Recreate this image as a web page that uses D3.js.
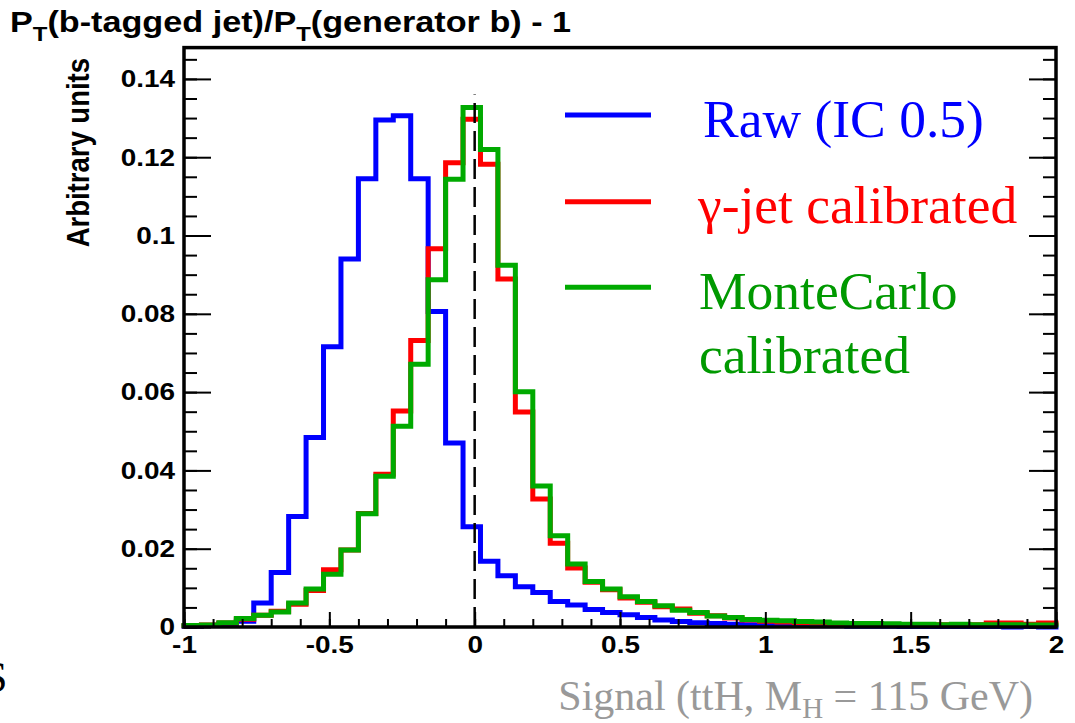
<!DOCTYPE html>
<html><head><meta charset="utf-8">
<script src="https://cdn.jsdelivr.net/npm/d3@7"></script>
<style>body{margin:0;background:#fff}svg{display:block}</style>
</head><body><svg id="c" width="1075" height="723"></svg>
<script>
// ---------------- data ----------------
const xMin = -1, xMax = 2, binCount = 50;
const binLowEdges = d3.range(binCount).map(i => xMin + i * (xMax - xMin) / binCount);

const rawValues = [
  0.0002,0.0004,0.0008,0.0015,0.0061,0.0139,0.0282,0.0484,0.0716,0.0940,
  0.1145,0.1295,0.1306,0.1145,0.0806,0.0470,0.0256,0.0168,0.0131,0.0103,
  0.0088,0.0065,0.0056,0.0045,0.0037,0.0031,0.0024,0.0018,0.0014,0.0011,
  0.0009,0.0007,0.0006,0.0005,0.0004,0.0004,0.0003,0.0003,0.0002,0.0002,
  0.0002,0.0001,0.0001,0.0001,0.0001,0.0001,0.0001,0.0000,0.0001,0.0000];

const gammaJetValues = [
  0.0003,0.0005,0.0010,0.0020,0.0030,0.0040,0.0058,0.0093,0.0146,0.0197,
  0.0290,0.0390,0.0552,0.0732,0.0966,0.1186,0.1297,0.1182,0.0889,0.0549,
  0.0327,0.0214,0.0151,0.0114,0.0095,0.0074,0.0063,0.0052,0.0046,0.0035,
  0.0029,0.0023,0.0018,0.0015,0.0013,0.0011,0.0010,0.0008,0.0006,0.0005,
  0.0006,0.0006,0.0005,0.0006,0.0006,0.0006,0.0010,0.0010,0.0007,0.0010];

const monteCarloValues = [
  0.0004,0.0005,0.0011,0.0022,0.0030,0.0038,0.0061,0.0097,0.0135,0.0197,
  0.0289,0.0385,0.0513,0.0671,0.0887,0.1144,0.1327,0.1220,0.0924,0.0601,
  0.0360,0.0233,0.0161,0.0116,0.0097,0.0077,0.0065,0.0054,0.0043,0.0037,
  0.0028,0.0024,0.0019,0.0017,0.0016,0.0014,0.0013,0.0010,0.0009,0.0009,
  0.0008,0.0007,0.0007,0.0006,0.0007,0.0006,0.0006,0.0006,0.0005,0.0005];

const xMajorTicks = [-1,-0.5,0,0.5,1,1.5,2];
const xMajorLabels = ["-1","-0.5","0","0.5","1","1.5","2"];
const xMinorTicks = d3.range(-10,21).map(i => i/10);
const yMajorTicks = [0,0.02,0.04,0.06,0.08,0.1,0.12,0.14];
const yMajorLabels = ["0","0.02","0.04","0.06","0.08","0.1","0.12","0.14"];
const yMinorTicks = d3.range(0,30).map(i => i*0.005);
const yMax = 0.148;
const markerValue = 0;
const markerTop = 0.136;

const seriesNames = ["Raw (IC 0.5)","\u03b3-jet calibrated","MonteCarlo"];
const seriesColors = ["#0000ff","#ff0000","#00aa00"];
const legendTextColors = ["#0000ff","#ff0000","#009900"];

// ---------------- drawing ----------------
const svg = d3.select("#c");
const L = 184, R = 1056, T = 47.6, B = 627;
const x = d3.scaleLinear().domain([xMin,xMax]).range([L,R]);
const y = d3.scaleLinear().domain([0,yMax]).range([B,T]);
const SX = 1.14; // horizontal stretch of the original ROOT canvas text
const sans = "'Liberation Sans', Arial, sans-serif";
const serif = "'Liberation Serif', 'Times New Roman', serif";

svg.append("rect").attr("width",1075).attr("height",723).attr("fill","#fff");

// histograms
const line = d3.line().x(d=>x(d[0])).y(d=>y(d[1])).curve(d3.curveStepAfter);
[rawValues, gammaJetValues, monteCarloValues].forEach((vals,k)=>{
  const pts = binLowEdges.map((b,i)=>[b, vals[i]]);
  pts.push([xMax, vals[vals.length-1]]);
  svg.append("path").attr("d", line(pts)).attr("fill","none")
    .attr("stroke", seriesColors[k]).attr("stroke-width",5)
    .attr("stroke-linejoin","miter").attr("stroke-linecap","square");
});

// dashed marker at 0
svg.append("line").attr("x1",x(markerValue)).attr("x2",x(markerValue))
  .attr("y1",y(0)).attr("y2",y(markerTop))
  .attr("stroke","#000").attr("stroke-width",2.5).attr("stroke-dasharray","20,8");

// axes
function styleAxis(g){
  g.select(".domain").remove();
  g.selectAll(".tick line").attr("stroke","#000").attr("stroke-width",2);
}
svg.append("g").attr("transform",`translate(${L},0)`)
  .call(d3.axisLeft(y).tickValues(yMinorTicks).tickSize(-13).tickFormat(""))
  .call(styleAxis);
svg.append("g").attr("transform",`translate(${R},0)`)
  .call(d3.axisRight(y).tickValues(yMinorTicks).tickSize(-13).tickFormat(""))
  .call(styleAxis);
const yAx = svg.append("g").attr("transform",`translate(${L},0)`)
  .call(d3.axisLeft(y).tickValues(yMajorTicks).tickSize(-27).tickPadding(9)
    .tickFormat((d,i)=>yMajorLabels[i]))
  .call(styleAxis);
svg.append("g").attr("transform",`translate(${R},0)`)
  .call(d3.axisRight(y).tickValues(yMajorTicks).tickSize(-27).tickFormat(""))
  .call(styleAxis);
svg.append("g").attr("transform",`translate(0,${B})`)
  .call(d3.axisBottom(x).tickValues(xMinorTicks).tickSize(-8).tickFormat(""))
  .call(styleAxis);
const xAx = svg.append("g").attr("transform",`translate(0,${B})`)
  .call(d3.axisBottom(x).tickValues(xMajorTicks).tickSize(-15).tickPadding(9)
    .tickFormat((d,i)=>xMajorLabels[i]))
  .call(styleAxis);

[yAx,xAx].forEach(g=>{
  g.selectAll(".tick text").each(function(){
    const t = d3.select(this);
    const tx = +t.attr("x")||0, ty = +t.attr("y")||0;
    t.attr("x",0).attr("y",0)
     .attr("transform",`translate(${tx},${ty}) scale(${SX},1)`)
     .attr("font-family",sans).attr("font-weight","bold")
     .attr("font-size",24.5).attr("fill","#000");
  });
});

// frame
svg.append("rect").attr("x",L).attr("y",T).attr("width",R-L).attr("height",B-T)
  .attr("fill","none").attr("stroke","#000").attr("stroke-width",3.5);

// title
const title = svg.append("text").attr("transform",`translate(10,32) scale(${SX},1)`)
  .attr("font-family",sans).attr("font-weight","bold").attr("font-size",30).attr("fill","#000");
title.append("tspan").text("P");
title.append("tspan").attr("font-size",21).attr("dy",9).text("T");
title.append("tspan").attr("dy",-9).text("(b-tagged jet)/P");
title.append("tspan").attr("font-size",21).attr("dy",9).text("T");
title.append("tspan").attr("dy",-9).text("(generator b) - 1");

// y label
svg.append("text").attr("transform",`translate(89,58) scale(${SX},1) rotate(-90)`)
  .attr("text-anchor","end").attr("font-family",sans).attr("font-weight","bold")
  .attr("font-size",27.5).attr("fill","#000").text("Arbitrary units");

// legend
const legendRowsY = [115, 201.7, 287.3];
const legendTextY = [136.7, 222.7, 309.3];
const legendTextX = [703, 698, 699];
seriesNames.forEach((name,k)=>{
  svg.append("line").attr("x1",565).attr("x2",651)
    .attr("y1",legendRowsY[k]).attr("y2",legendRowsY[k])
    .attr("stroke",seriesColors[k]).attr("stroke-width",5);
  svg.append("text").attr("x",legendTextX[k]).attr("y",legendTextY[k])
    .attr("font-family",serif).attr("font-size",53.5).attr("fill",legendTextColors[k]).text(name);
});
svg.append("text").attr("x",699).attr("y",373.3)
  .attr("font-family",serif).attr("font-size",53.5).attr("fill",legendTextColors[2]).text("calibrated");

// footer
const foot = svg.append("text").attr("x",1033).attr("y",710).attr("text-anchor","end")
  .attr("font-family",serif).attr("font-size",42).attr("fill","#999");
foot.append("tspan").text("Signal (ttH, M");
foot.append("tspan").attr("font-size",29).attr("dy",8).text("H");
foot.append("tspan").attr("dy",-8).text(" = 115 GeV)");

svg.append("text").attr("x",-17).attr("y",692)
  .attr("font-family",serif).attr("font-size",44).attr("fill","#000").text("S");
</script>
</body></html>
